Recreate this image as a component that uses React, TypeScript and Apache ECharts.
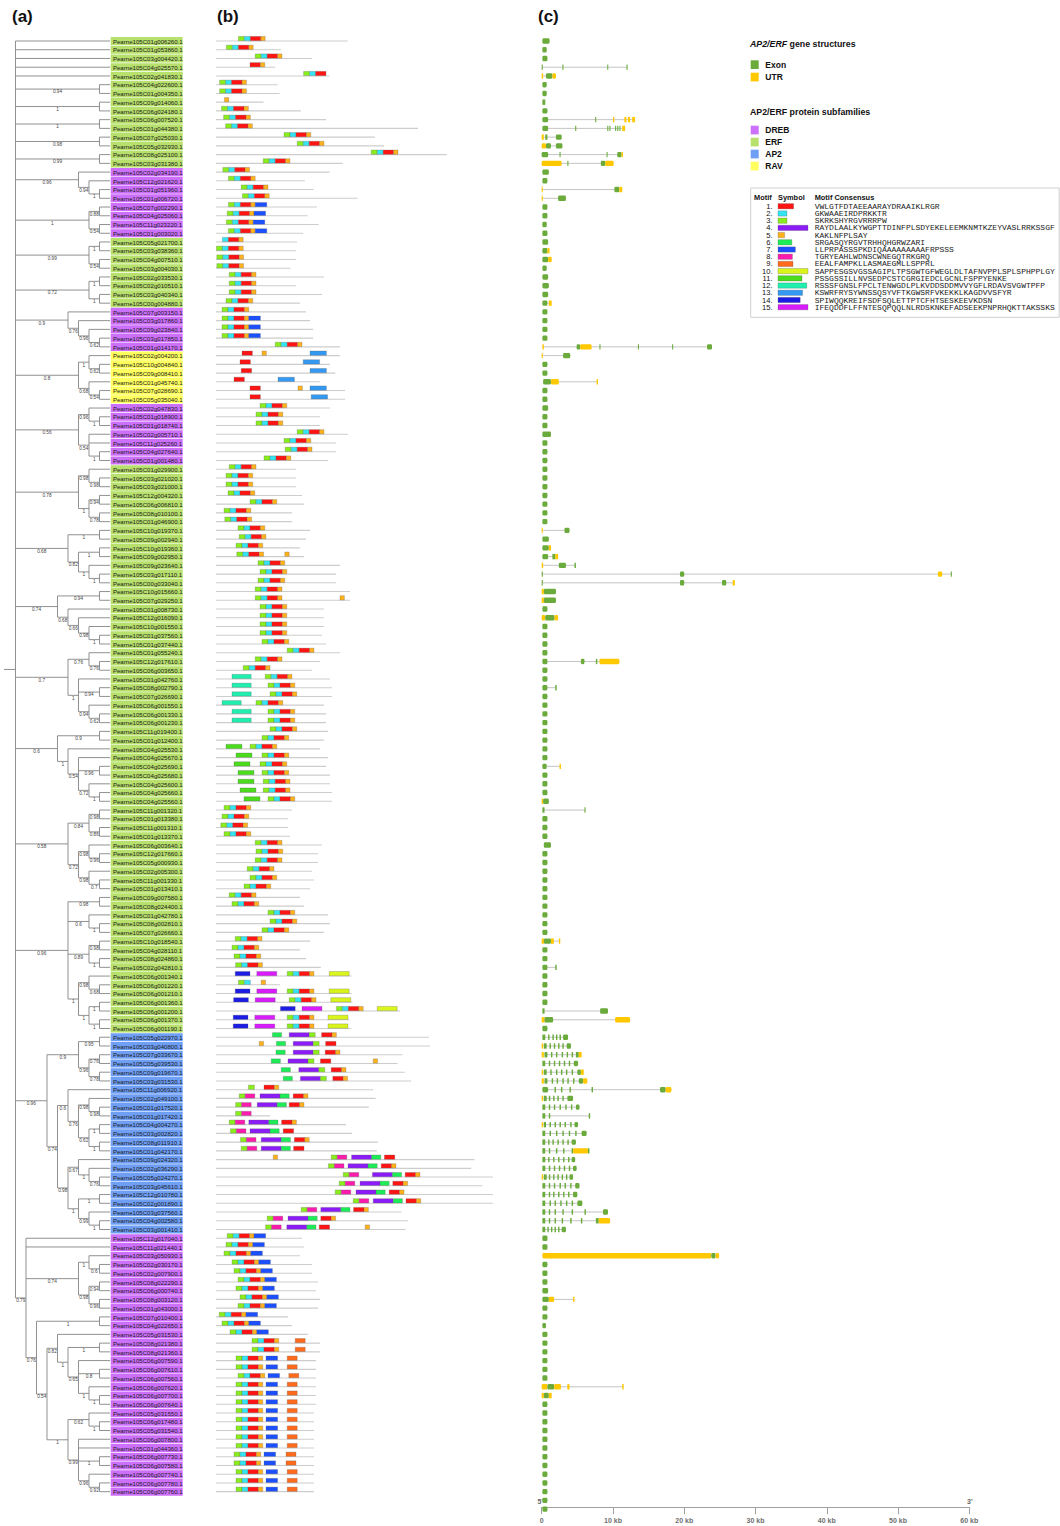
import React, { useEffect, useRef } from "react";
import * as echarts from "echarts";

const W = 1060;
const H = 1526;
const ROW0 = 41;
const ROWH = 8.739;
const YMAX = 167.78;
const FONT = '"Liberation Sans", Arial, Helvetica, sans-serif';
const MONO = '"Liberation Mono", "Courier New", monospace';

const geneIds = [
  "C01g006260","C01g053860","C03g004420","C04g025570","C02g041830","C04g022600","C01g004350","C09g014060","C06g024180","C06g007520",
  "C01g044380","C07g025030","C05g032930","C08g025100","C03g031380","C02g034190","C12g021620","C01g051960","C01g006720","C07g002290",
  "C04g025060","C11g023220","C01g003020","C05g021700","C03g038360","C04g007510","C03g004030","C02g033530","C02g010510","C03g040340",
  "C00g004880","C07g003150","C03g017860","C09g023840","C03g017850","C01g014170","C02g004200","C10g004840","C09g008410","C01g045740",
  "C07g028690","C05g035040","C02g047830","C01g018900","C01g018740","C02g005710","C11g025260","C04g027640","C01g001480","C01g029900",
  "C03g021020","C03g021000","C12g004320","C06g006810","C08g010100","C01g046900","C10g019370","C09g002940","C10g019360","C09g002950",
  "C09g023640","C03g017110","C00g033040","C10g015660","C07g029250","C01g008730","C12g016090","C10g001550","C01g037560","C01g037440",
  "C01g055240","C12g017610","C06g003650","C01g042760","C08g002790","C07g026690","C06g001550","C06g001330","C06g001230","C11g019400",
  "C01g012400","C04g025530","C04g025670","C04g025690","C04g025680","C04g025600","C04g025660","C04g025560","C11g001320","C01g013380",
  "C11g001310","C01g013370","C06g003640","C12g017660","C05g000930","C02g005300","C11g001330","C01g013410","C09g007580","C08g024400",
  "C01g042780","C08g002810","C07g026660","C10g018540","C04g028110","C08g024860","C02g042810","C06g001340","C06g001220","C06g001210",
  "C06g001360","C06g001200","C06g001370","C06g001190","C05g022970","C03g040800","C07g033670","C05g039530","C09g019670","C03g031530",
  "C11g006920","C02g049100","C01g017520","C01g017420","C04g004270","C03g002820","C08g011910","C01g042170","C09g024320","C02g036290",
  "C05g024270","C03g045610","C12g010780","C02g001890","C03g037560","C04g002580","C03g001410","C12g017040","C11g021440","C03g050930",
  "C02g030170","C02g007900","C08g022290","C06g000740","C08g003120","C01g043000","C07g010400","C04g022650","C05g031530","C08g021380",
  "C08g021360","C06g007590","C06g007610","C06g007560","C06g007620","C06g007700","C06g007640","C05g031550","C06g017480","C05g031540",
  "C06g007800","C01g044360","C06g007730","C06g007580","C06g007740","C06g007780","C06g007760"
];

// E = ERF, D = DREB, A = AP2, R = RAV
const subfamilyCodes = (
  "EEEEEEEEEEEEEEE" + "DDDDDDDD" + "EEEEEEEE" + "DDDDD" + "RRRRRR" + "DDDDDDD" +
  "EEEEEEEEEEEEEEEEEEEEEEEEEEEEEEEEEEEEEEEEEEEEEEEEEEEEEEEEEEEEEEEEE" +
  "AAAAAAAAAAAAAAAAAAAAAAA" + "DDDDDDDDDDDDDDDDDDDDDDDDDDDDDD"
).split("");

const subfamilyNames = ["DREB", "ERF", "AP2", "RAV"];
const subfamilyKeys = ["D", "E", "A", "R"];
const subfamilyColors = ["#cc70fb", "#b8e06c", "#6f9ff5", "#ffff5e"];

// Newick topology (leaf numbers = row numbers), support values after ')'
const treeNewick =
  "(1,2,3,4,5,(6,7)0.94,(8,9)1,(10,11)1,(12,13)0.98,(14,15)0.99,(16,(17,(18,19)1)0.94)0.96," +
  "((20,21)0.88,(22,23)0.54)1,((24,25)1,(26,27)0.54)0.99,((28,29)1,(30,31)1)0.72," +
  "(32,(33,(34,(35,36)0.62)0.96)0.76)0.9,((37,(38,39)0.62)1,(40,(41,42)0.54)0.68)0.8," +
  "((43,(44,45)1)0.96,(46,47,(48,49)1)0.54)0.56,((50,(51,52)0.98)0.98,((53,54)0.94,(55,56)0.78)1)0.78," +
  "((57,58)1,((59,60)1,(61,(62,63)1)1)0.82)0.68,((64,65)0.94,(66,(67,(68,(69,70)1)0.98)0.66)0.68)0.74," +
  "((71,(72,73)0.76)0.76,(74,(75,76)0.94,(77,(78,79)0.62)0.94)1)0.7," +
  "((80,81)0.9,(82,(83,(84,85)0.96,(86,(87,88)1)0.72)0.54)1)0.6," +
  "(((89,90)0.98,(91,92)0.86)0.84,((93,(94,95)0.96)0.98,(96,(97,98)0.7)0.98)0.72)0.58," +
  "((99,100)0.98,(101,(102,103)1)0.6,((104,105)0.98,(106,107)1)0.89,((108,(109,110)0.68)0.98,((111,112)1,(113,114)1)1)1)0.96," +
  "(((115,116)0.95,((117,118)0.76,(119,120)0.78)0.96)0.9,((121,((122,(123,124)0.98)0.98,((125,126)1,(127,128)1)0.62)0.76)0.6," +
  "((129,(130,(131,132)0.76)1)0.67,((133,134)1,(135,(136,137)1)0.99)1)0.98)0.74)0.96," +
  "(138,139,((140,(141,142)0.6)1,((143,144)0.94,(145,146)0.96)0.98)0.74,((147,148)1,((149,((150,151)1,(152,(153,154)0.8," +
  "(155,(156,157)1)1)0.65)1)0.82,((158,(159,160)1)0.62,(161,162,(163,164)1,(165,(166,167)0.92)0.96)0.99)1)0.54)0.76)0.79)";

const motifConsensus = [
  "VWLGTFDTAEEAARAYDRAAIKLRGR",
  "GKWAAEIRDPRKKTR",
  "SKRKSHYRGVRRRPW",
  "RAYDLAALKYWGPTTDINFPLSDYEKELEEMKNMTKZEYVASLRRKSSGF",
  "KAKLNFPLSAY",
  "SRGASQYRGVTRHHQHGRWZARI",
  "LLPRPASSSPKDIQAAAAAAAAAFRPSSS",
  "TGRYEAHLWDNSCWNEGQTRKGRQ",
  "EEALFAMPKLLASMAEGMLLSPPRL",
  "SAPPESGSVGSSAGIPLTPSGWTGFWEGLDLTAFNVPPLSPLSPHPPLGY",
  "PSSGSSILLNVSEDPCSTCGRGIEDCLGCNLFSPPYENKE",
  "RSSSFGNSLFPCLTENWGDLPLKVDDSDDMVVYGFLRDAVSVGWTPFP",
  "KSWRFRYSYWNSSQSYVFTKGWSRFVKEKKLKAGDVVSFYR",
  "SPIWQQKREIFSDFSQLETTPTCFHTSESKEEVKDSN",
  "IFEQDDFLFFNTESQPQQLNLRDSKNKEFADSEEKPNPRHQKTTAKSSKS"
];
const motifColors = [
  "#ff1414", "#35e4f2", "#8aee1c", "#8b1cf7", "#ffb21c", "#1ced57", "#1c50ff", "#fb1cae",
  "#ff6b1c", "#daf51c", "#4bdc1c", "#20efb0", "#3399f2", "#1c1ce4", "#d81cfb"
];

const proteinLength = [
  329,162,240,148,284,154,159,119,212,275,
  505,397,420,577,317,284,222,244,354,252,
  229,257,218,203,200,200,186,270,200,265,
  210,225,235,243,243,310,310,285,298,260,
  323,323,285,260,260,330,300,300,280,200,
  200,200,215,220,190,190,235,225,210,220,
  310,300,300,335,335,270,270,270,265,275,
  310,260,240,285,290,290,270,275,275,280,
  270,260,280,275,285,285,290,290,190,180,
  180,185,265,255,255,240,245,235,210,220,
  280,285,270,235,210,225,262,339,160,339,
  341,460,333,338,532,535,466,454,472,488,
  393,399,382,135,325,340,405,402,646,638,
  692,666,692,692,464,480,474,215,220,210,
  240,240,255,250,260,255,180,190,230,260,
  260,250,250,250,250,250,250,245,245,245,
  245,245,245,245,245,245,245
];

// "start:m.m.m" = contiguous motifs beginning at amino acid "start"
const motifLayout = [
  "56:3.2.1.5","26:3.2.1.5","98:3.2.1.5","85:1.5","219:3.2.1","9:3.2.1.5","9:3.2.1.5","21:5","14:3.2.1.5","19:3.2.1.5",
  "24:3.2.1.5","170:3.2.1.5","203:3.2.1.5","388:3.2.1.5","118:3.2.1.5","17:3.2.1.5","31:3.2.1.5","63:3.2.1.5","66:3.2.1.5","31:3.2.1.5.7",
  "28:3.2.1.5.7","26:3.2.1.5.7","31:3.2.1.5.7","16:2.1.5","1:3.2.1.5","2:3.2.1.5","2:3.2.1.5","33:3.2.1.5","33:3.2.1.5","33:3.2.1.5",
  "25:3.2.1.5","15:3.2.1.5","15:3.2.1.5.7","15:3.2.1.5.7","15:3.2.1.5.7","148:3.2.1.5","65:1 115:5 235:13","60:1 218:13","63:1 235:13","45:1 155:13",
  "85:1 205:5 235:13","85:1 238:13","110:3.2.1.5","100:3.2.1.5","100:3.2.1.5","203:3.2.1.5","170:3.2.1.5","173:3.2.1.5","120:3.2.1.5","33:3.2.1.5",
  "25:3.2.1.5","25:3.2.1.5","30:3.2.1.5","85:3.2.1.5","20:3.2.1.5","22:3.2.1.5","55:3.2.1.5","58:3.2.1.5","50:3.2.1.5","52:3.2.1.5 172:5",
  "105:3.2.1.5","110:3.2.1.5","105:3.2.1.5","98:3.2.1.5","98:3.2.1.5 310:5","110:3.2.1.5","110:3.2.1.5","110:3.2.1.5","110:3.2.1.5","115:3.2.1.5",
  "178:3.2.1.5","98:3.2.1.5","68:3.2.1.5","40:12 123:3.2.1.5","40:12 130:3.2.1.5","40:12 135:3.2.1.5","15:12 100:3.2.1.5","40:12 130:3.2.1.5","40:12 130:3.2.1.5","135:3.2.1.5",
  "115:3.2.1.5","25:11 85:3.2.1.5","50:11 115:3.2.1.5","45:11 110:3.2.1.5","55:11 115:3.2.1.5","55:11 118:3.2.1.5","60:11 118:3.2.1.5","70:11 130:3.2.1.5","20:3.2.1.5","15:3.2.1.5",
  "12:3.2.1.5","20:3.2.1.5","98:3.2.1.5","100:3.2.1.5","98:3.2.1.5","78:3.2.1.5","85:3.2.1.5","70:3.2.1.5","33:3.2.1.5","40:3.2.1.5",
  "130:3.2.1.5","135:3.2.1.5","115:3.2.1.5","48:3.2.1.5","40:3.2.1.5","45:3.2.1.5","49:3.2.1.5","48:14 102:15 178:3.2.1.5 283:10","56:3.2 113:5","48:14 102:15 178:3.2.1.5 283:10",
  "44:14 98:15 183:3.2.1.5 287:10","161:14 215:15 301:3.2.1.5 403:10","43:14 97:15 178:3.2.1.5 280:10","43:14 97:15 178:3.2.1.5 280:10","141:6 183:4.3 264:1.5","108:5 151:6 193:4.3 274:1","150:6 193:4.3 273:1.5","138:6 180:4.3 261:1 393:5","163:6 207:4.3 288:1.5","168:6 211:4.3 292:1.5",
  "81:3 120:1.5","58:3.8 110:4.6 193:1.5","49:3.8 103:4.6 183:1.5","49:3.8","33:3.8 82:4.6 164:1.5","36:3.8 85:4.6 168:1","61:3.8 113:4.6 196:1.5","63:3.8 113:4.6 194:1","143:5 288:3.8 339:4.6 421:1","281:3.8 330:4.6 413:1.5",
  "318:3.8 391:4.6 473:1.5","308:3.8 360:4.6 442:1.5","298:3.8 350:4.6 433:1.5","343:3.8 393:4.6 475:1.5","213:3.8 262:4.6 344:1.5","128:3.8 180:4.6 262:1.5","124:3.8 177:4.6 258:1 373:5","28:3.2.1.5.7","25:3.2.1.5.7","20:3.2.1.5.7",
  "40:3.2.1.5.7","45:3.2.1.5.7","55:3.2.1.5.7","50:3.2.1.5.7","60:3.2.1.5.7","55:3.2.1.5.7","8:3.2.1.5.7","15:3.2.1.5.7","35:3.2.1.5.7","90:3.2.1.5 198:9",
  "90:3.2.1.5 198:9","50:3.2.1.5 125:7 178:9","50:3.2.1.5 125:7 178:9","55:3.2.1.5 130:7 182:9","50:3.2.1.5 125:7 178:9","50:3.2.1.5 125:7 178:9","50:3.2.1.5 125:7 178:9","50:3.2.1.5 125:7 178:9","50:3.2.1.5 125:7 178:9","50:3.2.1.5 125:7 178:9",
  "50:3.2.1.5 125:7 178:9","50:3.2.1.5 125:7 178:9","45:3.2.1.5 120:7 175:9","45:3.2.1.5 120:7 175:9","50:3.2.1.5 125:7 178:9","50:3.2.1.5 125:7 178:9","50:3.2.1.5 125:7 178:9"
];

// Gene structures in kb: E = exon (CDS), U = UTR
const geneStructure = [
  "E0.1-1.1","E0.1-0.7","E0.1-0.8","E0-0.15 E2.9-3.05 E9.2-9.3 E11.9-12.05","U0-0.2 E0.6-1.5 U1.5-2.0",
  "E0.1-0.7","E0.1-0.7","E0.1-0.5","E0.1-0.8","E0.1-0.9 E7.5-7.65 U10.0-10.2 U11.6-11.9 U12.1-12.4 U12.7-13.1",
  "E0.1-0.9 E4.7-4.85 E9.2-9.35 E9.5-9.65 E10.3-10.45 E10.6-10.75 E10.9-11.05 U11.3-11.7","U0-0.3 E0.5-0.8 E2.0-2.8","U0-0.6 E0.6-1.3 E2.0-2.9","E0-0.9 E2.5-2.65 E9.1-9.25 E10.6-11.2 U11.2-11.4","U0-2.8 E3.6-3.75 E8.3-8.9 U8.9-10.1",
  "E0.1-1.0","E0.1-0.8","U0-0.15 E10.2-10.9 U10.9-11.3","U0-0.15 E2.3-3.4","E0.1-0.8",
  "E0.1-0.8","E0.1-0.7","E0.1-0.8","E0.1-0.9","E0.1-0.8 U0.8-1.1",
  "E0.1-0.9 U0.9-1.4","E0.1-0.7","E0.1-0.9","E0.1-1.0","E0.1-0.9",
  "E0.1-0.8 U1.0-1.4","E0.1-0.8","E0.1-0.8","E0.1-0.8","E0.1-0.8",
  "U0.1-0.3 E4.9-5.4 U5.4-7.0 E8.1-8.25 E13.5-13.65 E18.3-18.45 E23.2-23.9","U0-0.15 E3.0-4.0","E0.1-0.8","E0.1-0.8","E0.2-1.3 U1.3-2.4 U7.7-7.9",
  "E0.1-0.8","E0.1-0.8","E0.1-0.9","E0.1-0.8","E0.1-0.8",
  "E0.1-1.3","E0.1-0.8","E0.1-0.8","E0.1-0.8","E0.1-0.8",
  "E0.1-0.8","E0.1-0.8","E0.1-0.8","E0.1-0.8","E0.1-0.8",
  "E0.1-0.8","U0-0.15 E3.2-3.9","E0.1-1.0","E0.1-1.0 U1.0-1.3","E0.1-0.9 E1.5-1.9 U1.9-2.3",
  "U0-0.2 E2.4-3.4 E4.6-4.8","E0-0.15 E19.4-20.0 U55.6-56.2 E57.4-57.55","E0-0.15 E19.4-20.0 E25.3-25.9 U26.8-27.1","U0-0.3 E0.3-2.0","U0-0.3 E0.3-2.0",
  "E0.1-0.8","U0-0.5 E0.5-1.8 U1.8-2.3","E0.1-0.8","E0.1-0.8","E0.1-0.8",
  "E0.1-0.8","E0.1-0.8 E5.5-6.0 E7.6-7.8 U8.1-10.9","E0.1-0.8","E0.1-0.8","E0.1-0.8 E1.9-2.1",
  "E0.1-0.8","E0.1-0.8","E0.1-0.8","E0.1-0.8","E0.1-0.8",
  "E0.1-0.8","E0.1-0.8","E0.1-0.8","E0.1-0.7 U2.5-2.7","E0.1-0.8",
  "E0.1-0.8","E0.1-0.8","U0-0.2 E0.2-1.0","E0.1-0.4 E6.0-6.15","E0.1-0.8",
  "E0.1-0.8","E0.1-0.8","E0.3-1.3","E0.1-0.8","E0.1-0.8",
  "E0.1-0.8","E0.1-0.8","E0.1-0.8","E0.1-0.8","E0.1-0.8",
  "E0.1-0.8","E0.1-0.8","E0.1-0.8","U0-0.3 E0.3-1.3 U1.3-1.7 U2.4-2.6","E0.1-0.8",
  "E0.1-0.8","E0.1-0.8 E1.9-2.1","E0.1-0.8","E0.1-0.8","E0.1-0.8",
  "E0.1-0.8","E0.1-0.4 E8.2-9.3","U0-0.4 E0.4-1.6 U10.3-12.4","E0.1-0.8",
  "E0.1-0.5 E0.9-1.1 E1.5-1.7 E2.0-2.2 E2.5-2.7 E3.0-3.7",
  "U0-0.2 E0.3-0.7 E1.1-1.3 E1.7-1.9 E2.3-2.5 E2.9-3.1 E3.5-4.1",
  "U0-0.3 E0.4-0.8 E1.3-1.5 E2.0-2.2 E2.8-3.0 E3.5-3.7 E4.2-4.4 E4.8-5.2 U5.2-5.6",
  "E0.1-0.5 E1.0-1.2 E1.7-1.9 E2.4-2.6 E3.1-3.3 E3.8-4.0 E4.5-5.1",
  "U0-0.2 E0.3-0.7 E1.2-1.4 E2.0-2.2 E2.7-2.9 E3.4-3.6 E4.2-4.4 E5.0-5.5 U5.5-5.9",
  "U0-0.3 E0.4-0.8 E1.4-1.6 E2.1-2.3 E2.9-3.1 E3.6-3.8 E4.4-4.6 E5.2-5.8 U5.8-6.4",
  "E0.1-0.9 E1.8-2.0 E2.7-2.9 E3.9-4.1 E7.0-7.2 E16.6-17.4 U17.4-18.2",
  "U0-0.2 E0.3-0.7 E1.0-1.2 E1.6-1.8 E2.2-2.4 E2.9-3.1 E3.6-4.4",
  "E0.1-0.5 E1.0-1.2 E1.7-1.9 E2.5-2.7 E3.3-3.5 E4.1-4.3 E4.8-5.3",
  "E0.1-0.5 E1.0-1.2 E6.6-6.8",
  "U0-0.2 E0.3-0.6 E1.1-1.3 E1.8-2.0 E2.5-2.7 E3.2-3.4 E4.0-4.2 E4.6-5.1",
  "E0.1-0.5 E1.1-1.3 E2.0-2.2 E2.9-3.1 E3.8-4.0 E4.7-4.9 E5.6-6.3",
  "E0.1-0.5 E0.9-1.1 E1.5-1.7 E2.2-2.4 E2.9-3.1 E3.6-3.8 E4.2-4.8",
  "E0.1-0.5 E1.0-1.2 E2.0-2.2 E3.0-3.2 E4.2-4.4 U4.4-6.5 E6.5-6.7",
  "E0.1-0.5 E0.9-1.1 E1.6-1.8 E2.3-2.5 E3.0-3.2 E3.7-3.9 E4.2-4.7",
  "E0.1-0.5 E1.0-1.2 E1.7-1.9 E2.4-2.6 E3.1-3.3 E3.8-4.0 E4.4-4.9",
  "U0-0.2 E0.3-0.7 E1.0-1.2 E1.6-1.8 E2.2-2.4 E2.8-3.0 E3.4-3.6 E3.9-4.4",
  "E0.1-0.5 E1.0-1.2 E1.7-1.9 E2.5-2.7 E3.2-3.4 E4.0-4.2 E4.7-5.3",
  "E0.1-0.5 E1.0-1.2 E1.6-1.8 E2.3-2.5 E3.0-3.2 E3.7-3.9 E4.4-5.0",
  "E0.1-0.5 E1.1-1.3 E1.8-2.0 E2.6-2.8 E3.4-3.6 E4.2-4.4 E5.0-5.7",
  "E0.1-0.5 E1.0-1.2 E1.8-2.0 E2.9-3.1 E4.2-4.4 E6.0-6.2 E8.6-9.3",
  "E0.1-0.5 E1.0-1.2 E1.8-2.0 E2.8-3.0 E4.0-4.2 E5.5-5.7 E7.6-8.0 U8.0-9.6",
  "E0.1-0.5 E0.8-1.0 E1.3-1.5 E1.8-2.0 E2.3-2.5 E2.8-3.4",
  "E0.1-0.8","E0.1-0.8","U0.1-23.8 E23.8-24.4 U24.4-24.9","E0.1-0.8","E0.1-0.8",
  "E0.1-0.8","E0.1-0.9","E0.1-1.0 U1.0-1.75 U4.4-4.6","E0.1-0.8","E0.1-0.8",
  "E0.1-0.6","E0.1-0.8","E0.1-0.8","E0.1-0.8","E0.1-0.8",
  "E0.1-0.8","E0.1-0.8","U0-0.8 E0.8-1.75 U1.75-2.7 U3.6-3.9 U11.3-11.5","U0-0.3 E0.3-1.0 U1.0-1.4","E0.1-0.8",
  "E0.1-0.8","E0.1-0.8","E0.1-0.8","E0.1-0.8","E0.1-0.8",
  "E0.1-0.8","E0.1-0.8","E0.1-0.8","E0.1-0.8","E0.1-0.8",
  "E0.1-0.8","E0.1-0.8"
];

const kbTicks = [0, 10, 20, 30, 40, 50, 60];

type TNode = { children: TNode[]; leaf: number; bs: string; h: number; y: number };

function parseNewick(src: string): TNode {
  const s = src.replace(/\s+/g, "");
  let i = 0;
  function parse(): TNode {
    if (s[i] === "(") {
      i++;
      const children: TNode[] = [];
      for (;;) {
        children.push(parse());
        if (s[i] === ",") { i++; continue; }
        if (s[i] === ")") { i++; break; }
        break;
      }
      let lab = "";
      while (i < s.length && /[0-9.]/.test(s[i])) lab += s[i++];
      return { children, leaf: -1, bs: lab, h: 0, y: 0 };
    }
    let num = "";
    while (i < s.length && /[0-9]/.test(s[i])) num += s[i++];
    return { children: [], leaf: parseInt(num, 10), bs: "", h: 0, y: 0 };
  }
  return parse();
}

function layoutTree(n: TNode) {
  if (!n.children.length) { n.h = 0; n.y = n.leaf - 1; return; }
  n.children.forEach(layoutTree);
  n.h = Math.max(...n.children.map((c) => c.h)) + 1;
  n.y = (n.children[0].y + n.children[n.children.length - 1].y) / 2;
}

function buildOption() {
  const root = parseNewick(treeNewick);
  layoutTree(root);
  const STUB_H = 10.095;
  const treeSegs: number[][] = [];
  const bsPts: number[][] = [];
  const bsText: string[] = [];
  const walk = (n: TNode) => {
    if (!n.children.length) return;
    const f = n.children[0], l = n.children[n.children.length - 1];
    treeSegs.push([n.h, f.y, n.h, l.y]);
    n.children.forEach((c) => {
      treeSegs.push([n.h, c.y, c.h, c.y]);
      if (c.children.length && c.bs) { bsPts.push([(n.h + c.h) / 2, c.y]); bsText.push(c.bs); }
      walk(c);
    });
  };
  walk(root);
  treeSegs.push([STUB_H, root.y, root.h, root.y]);

  const labelData = geneIds.map((_, i) => [0.5, i]);
  const labelColor = subfamilyCodes.map((c) => subfamilyColors[subfamilyKeys.indexOf(c)]);

  const protData = proteinLength.map((L, i) => [0, L, i]);
  const motifData: number[][] = [];
  motifLayout.forEach((lay, row) => {
    lay.split(" ").filter(Boolean).forEach((grp) => {
      const [st, ms] = grp.split(":");
      let pos = parseFloat(st);
      ms.split(".").forEach((m) => {
        const k = parseInt(m, 10) - 1;
        const len = motifConsensus[k].length;
        motifData.push([pos, pos + len, row, k]);
        pos += len;
      });
    });
  });

  const intronData: number[][] = [];
  const exonData: number[][] = [];
  geneStructure.forEach((g, row) => {
    const segs = g.split(" ").filter(Boolean).map((t) => {
      const type = t[0] === "U" ? 1 : 0;
      const [a, b] = t.slice(1).split("-").map(parseFloat);
      return [a, b, row, type];
    });
    const s0 = Math.min(...segs.map((s) => s[0]));
    const s1 = Math.max(...segs.map((s) => s[1]));
    if (s1 - s0 > 0) intronData.push([s0, s1, row]);
    segs.forEach((s) => exonData.push(s));
  });

  const gridH = YMAX * ROWH;
  const mkGrid = (left: number, width: number) => ({ left, width, top: ROW0, height: gridH, outerBoundsMode: "none" });
  const mkY = (gi: number) => ({ gridIndex: gi, type: "value", min: 0, max: YMAX, inverse: true, show: false });

  const graphic: any[] = [];
  const txt = (x: number, y: number, text: string, o: any = {}) =>
    graphic.push({ type: "text", x, y, silent: true, style: { text, fontFamily: FONT, fontSize: 9, fill: "#111", verticalAlign: "middle", ...o } });

  txt(12, 16, "(a)", { fontSize: 17, fontWeight: "bold" });
  txt(217, 16, "(b)", { fontSize: 17, fontWeight: "bold" });
  txt(538, 16, "(c)", { fontSize: 17, fontWeight: "bold" });

  graphic.push({
    type: "text", x: 750, y: 43.5, silent: true,
    style: {
      text: "{i|AP2/ERF}{n| gene structures}", verticalAlign: "middle",
      rich: {
        i: { fontFamily: FONT, fontSize: 8.8, fontWeight: "bold", fontStyle: "italic", fill: "#111" },
        n: { fontFamily: FONT, fontSize: 8.8, fontWeight: "bold", fill: "#111" }
      }
    }
  });
  graphic.push({ type: "rect", shape: { x: 750.7, y: 60.3, width: 8, height: 8.7 }, style: { fill: "#6aab3c" } });
  txt(765.3, 64.8, "Exon", { fontSize: 8.5, fontWeight: "bold" });
  graphic.push({ type: "rect", shape: { x: 750.7, y: 72.7, width: 8, height: 8.7 }, style: { fill: "#ffc800" } });
  txt(765.3, 77.2, "UTR", { fontSize: 8.5, fontWeight: "bold" });
  txt(750, 111.8, "AP2/ERF protein subfamilies", { fontSize: 8.8, fontWeight: "bold" });
  subfamilyNames.forEach((nm, k) => {
    const cy = 130 + k * 12;
    graphic.push({ type: "rect", shape: { x: 750.7, y: cy - 4.3, width: 8, height: 8.7 }, style: { fill: subfamilyColors[k] } });
    txt(765.3, cy, nm, { fontSize: 8.5, fontWeight: "bold" });
  });

  graphic.push({ type: "rect", shape: { x: 750.7, y: 188, width: 308.5, height: 129.3 }, style: { fill: "none", stroke: "#cfcfcf", lineWidth: 1 } });
  txt(754, 197.2, "Motif", { fontSize: 7.4, fontWeight: "bold" });
  txt(778, 197.2, "Symbol", { fontSize: 7.4, fontWeight: "bold" });
  txt(814.7, 197.2, "Motif Consensus", { fontSize: 7.4, fontWeight: "bold" });
  motifConsensus.forEach((c, k) => {
    const cy = 206.3 + k * 7.21;
    txt(772.5, cy, (k + 1) + ".", { fontSize: 7.6, align: "right" });
    graphic.push({ type: "rect", shape: { x: 778, y: cy - 2.7, width: c.length * 0.6, height: 5.3 }, style: { fill: motifColors[k], stroke: "rgba(80,80,80,0.45)", lineWidth: 0.6 } });
    graphic.push({ type: "text", x: 814.7, y: cy, silent: true, style: { text: c, fontFamily: MONO, fontSize: 8, fill: "#222", verticalAlign: "middle" } });
  });

  txt(537.5, 1501, "5'", { fontSize: 7, fill: "#666", fontWeight: "bold" });
  txt(967, 1501, "3'", { fontSize: 7, fill: "#666", fontWeight: "bold" });

  return {
    animation: false,
    backgroundColor: "#ffffff",
    grid: [mkGrid(4, 106), mkGrid(110.7, 72), mkGrid(216, 320), mkGrid(541.7, 427.6)],
    xAxis: [
      { gridIndex: 0, type: "value", min: 0, max: STUB_H, inverse: true, show: false },
      { gridIndex: 1, type: "value", min: 0, max: 1, show: false },
      { gridIndex: 2, type: "value", min: 0, max: 800, show: false },
      {
        gridIndex: 3, type: "value", min: 0, max: 60, interval: 10, position: "bottom",
        axisLine: { show: true, onZero: false, lineStyle: { color: "#a0a0a0", width: 1 } },
        axisTick: { show: true, length: 7, lineStyle: { color: "#a0a0a0" } },
        axisLabel: {
          show: true, margin: 10, fontSize: 7, fontWeight: "bold", color: "#707070", fontFamily: FONT,
          formatter: (v: number) => (kbTicks.indexOf(v) === 0 ? "0" : v + " kb")
        },
        splitLine: { show: false }
      }
    ],
    yAxis: [mkY(0), mkY(1), mkY(2), mkY(3)],
    graphic,
    series: [
      {
        type: "custom", name: "tree", xAxisIndex: 0, yAxisIndex: 0, data: treeSegs, encode: { x: [0, 2], y: [1, 3] }, silent: true,
        renderItem: (_p: any, api: any) => {
          const a = api.coord([api.value(0), api.value(1)]);
          const b = api.coord([api.value(2), api.value(3)]);
          return { type: "line", shape: { x1: a[0], y1: a[1], x2: b[0], y2: b[1] }, style: { stroke: "#858585", lineWidth: 0.9 } };
        }
      },
      {
        type: "custom", name: "support", xAxisIndex: 0, yAxisIndex: 0, data: bsPts, encode: { x: 0, y: 1 }, silent: true,
        renderItem: (p: any, api: any) => {
          const a = api.coord([api.value(0), api.value(1)]);
          return { type: "text", x: a[0], y: a[1] + 0.4, style: { text: bsText[p.dataIndex], fontFamily: FONT, fontSize: 4.7, fill: "#444", align: "center", verticalAlign: "top" } };
        }
      },
      {
        type: "custom", name: "labels", xAxisIndex: 1, yAxisIndex: 1, data: labelData, encode: { x: 0, y: 1 }, silent: true,
        renderItem: (p: any, api: any) => {
          const a = api.coord([0, api.value(1)]);
          const w = api.size([1, 0])[0];
          return {
            type: "group",
            children: [
              { type: "rect", shape: { x: a[0], y: a[1] - ROWH / 2 + 0.3, width: w, height: ROWH - 0.6 }, style: { fill: labelColor[p.dataIndex] } },
              { type: "text", x: a[0] + 2.2, y: a[1] + 0.2, style: { text: "Pearne105" + geneIds[p.dataIndex] + ".1", fontFamily: FONT, fontSize: 6.1, fill: "#1a1a1a", verticalAlign: "middle" } }
            ]
          };
        }
      },
      {
        type: "custom", name: "protein", xAxisIndex: 2, yAxisIndex: 2, data: protData, encode: { x: [0, 1], y: 2 }, silent: true,
        renderItem: (_p: any, api: any) => {
          const a = api.coord([api.value(0), api.value(2)]);
          const b = api.coord([api.value(1), api.value(2)]);
          return { type: "line", shape: { x1: a[0], y1: a[1], x2: b[0], y2: b[1] }, style: { stroke: "#cdcdcd", lineWidth: 1.1 } };
        }
      },
      {
        type: "custom", name: "motifs", xAxisIndex: 2, yAxisIndex: 2, data: motifData, encode: { x: [0, 1], y: 2 }, silent: true,
        renderItem: (_p: any, api: any) => {
          const a = api.coord([api.value(0), api.value(2)]);
          const b = api.coord([api.value(1), api.value(2)]);
          return { type: "rect", shape: { x: a[0], y: a[1] - 4.6, width: b[0] - a[0], height: 4.3 }, style: { fill: motifColors[api.value(3)], stroke: "rgba(90,90,90,0.45)", lineWidth: 0.6 } };
        }
      },
      {
        type: "custom", name: "intron", xAxisIndex: 3, yAxisIndex: 3, data: intronData, encode: { x: [0, 1], y: 2 }, silent: true,
        renderItem: (_p: any, api: any) => {
          const a = api.coord([api.value(0), api.value(2)]);
          const b = api.coord([api.value(1), api.value(2)]);
          return { type: "line", shape: { x1: a[0], y1: a[1], x2: b[0], y2: b[1] }, style: { stroke: "#c4c4c4", lineWidth: 1 } };
        }
      },
      {
        type: "custom", name: "exon", xAxisIndex: 3, yAxisIndex: 3, data: exonData, encode: { x: [0, 1], y: 2 }, silent: true,
        renderItem: (_p: any, api: any) => {
          const a = api.coord([api.value(0), api.value(2)]);
          const b = api.coord([api.value(1), api.value(2)]);
          const w = Math.max(1, b[0] - a[0]);
          return { type: "rect", shape: { x: a[0], y: a[1] - 2.7, width: w, height: 5.4, r: w > 3 ? 1.3 : 0 }, style: { fill: api.value(3) === 1 ? "#ffc800" : "#6aab3c" } };
        }
      }
    ]
  };
}

export default function App() {
  const ref = useRef<HTMLDivElement>(null);
  useEffect(() => {
    if (!ref.current) return;
    const chart = echarts.init(ref.current, null, { renderer: "svg", width: W, height: H });
    chart.setOption(buildOption() as any);
    return () => chart.dispose();
  }, []);
  return <div ref={ref} style={{ position: "absolute", left: 0, top: 0, width: W, height: H, background: "#fff" }} />;
}
